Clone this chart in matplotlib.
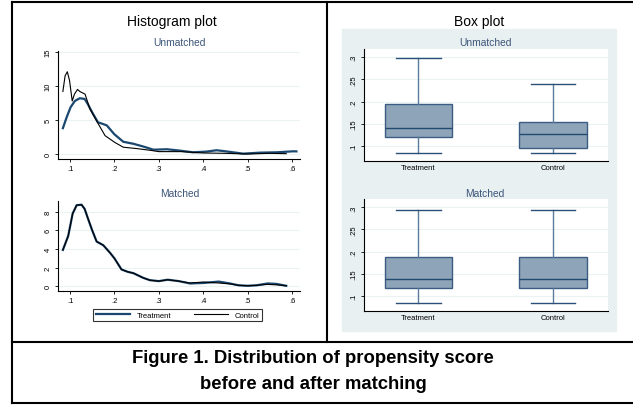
import matplotlib
matplotlib.use("Agg")
import matplotlib.pyplot as plt
from matplotlib.patches import Rectangle
from matplotlib.lines import Line2D

plt.rcParams['font.family'] = ['Liberation Sans', 'DejaVu Sans']

# density curves
unm_t_x = [0.084, 0.0925, 0.1015, 0.111, 0.122, 0.133, 0.14, 0.152, 0.163, 0.175, 0.183,
           0.2, 0.22, 0.243, 0.265, 0.288, 0.318, 0.347, 0.377, 0.407, 0.43, 0.45,
           0.49, 0.528, 0.566, 0.604, 0.61]
unm_t_y = [3.8, 5.4, 6.9, 7.8, 8.2, 8.1, 7.35, 5.9, 4.66, 4.4, 4.2,
           2.9, 1.8, 1.5, 1.1, 0.63, 0.7, 0.5, 0.25, 0.35, 0.55, 0.4,
           0.05, 0.2, 0.25, 0.4, 0.38]

unm_c_x = [0.084, 0.089, 0.094, 0.099, 0.105, 0.11, 0.117, 0.122, 0.128, 0.134, 0.145,
           0.164, 0.179, 0.201, 0.22, 0.25, 0.28, 0.3, 0.35, 0.4, 0.45, 0.5, 0.55, 0.587]
unm_c_y = [9.2, 11.5, 12.1, 10.8, 7.8, 8.8, 9.5, 9.2, 9.0, 8.8, 6.6,
           4.4, 2.7, 1.7, 1.0, 0.8, 0.55, 0.35, 0.35, 0.15, 0.1, 0.0, 0.1, 0.05]

mat_x = [0.084, 0.096, 0.106, 0.115, 0.126, 0.133, 0.141, 0.15, 0.16, 0.175, 0.19,
         0.2, 0.216, 0.23, 0.243, 0.265, 0.28, 0.3, 0.32, 0.345, 0.37, 0.4, 0.435,
         0.46, 0.48, 0.5, 0.52, 0.545, 0.565, 0.587]
mat_t_y = [3.9, 5.4, 7.8, 8.7, 8.75, 8.3, 7.2, 6.0, 4.8, 4.4, 3.6,
           3.0, 1.8, 1.55, 1.4, 0.9, 0.65, 0.55, 0.7, 0.55, 0.3, 0.35, 0.5,
           0.3, 0.1, 0.05, 0.1, 0.3, 0.25, 0.05]
mat_c_y = [3.9, 5.4, 7.8, 8.7, 8.75, 8.3, 7.2, 6.0, 4.8, 4.4, 3.6,
           3.0, 1.8, 1.55, 1.4, 0.9, 0.65, 0.55, 0.7, 0.55, 0.35, 0.45, 0.35,
           0.25, 0.1, 0.05, 0.1, 0.2, 0.15, 0.05]

# box plot summaries: whislo, q1, median, q3, whishi
groups = ["Treatment", "Control"]
unm_box = [[0.084, 0.1195, 0.140, 0.195, 0.297],
           [0.084, 0.096, 0.128, 0.154, 0.240]]
mat_box = [[0.0835, 0.118, 0.138, 0.188, 0.293],
           [0.0835, 0.118, 0.138, 0.188, 0.294]]

W, H = 633, 406
fig = plt.figure(figsize=(W / 100, H / 100), dpi=100)


def px_axes(x0, y0, x1, y1, **kw):
    return fig.add_axes([x0 / W, 1 - y1 / H, (x1 - x0) / W, (y1 - y0) / H], **kw)


def fx(x):
    return x / W


def fy(y):
    return 1 - y / H


navy = '#1a476f'
grid_c = '#eaf2f3'
sub_c = '#3d5578'

# light panel behind the box plots
fig.patches.append(Rectangle((fx(342), fy(332)), fx(616) - fx(342), fy(30) - fy(332),
                             transform=fig.transFigure, color='#e8f0f2', zorder=-5))


def style(ax, yticks, ylabels):
    for s in ['top', 'right']:
        ax.spines[s].set_visible(False)
    for s in ['left', 'bottom']:
        ax.spines[s].set_linewidth(0.8)
        ax.spines[s].set_color('black')
    ax.set_yticks(yticks)
    ax.set_yticklabels(ylabels, rotation=90, va='center', fontsize=5.5)
    ax.tick_params(length=2.5, width=0.6, pad=2, labelsize=5.5)
    ax.grid(axis='y', color=grid_c, linewidth=0.8)
    ax.set_axisbelow(True)


# histogram panel
ax1 = px_axes(58, 52, 300, 160)
ax1.plot(unm_t_x, unm_t_y, color=navy, lw=1.6)
ax1.plot(unm_c_x, unm_c_y, color='black', lw=0.8)
ax1.set_xlim(0.073, 0.618)
ax1.set_ylim(-0.735, 15.15)
ax1.set_xticks([0.1, 0.2, 0.3, 0.4, 0.5, 0.6])
ax1.set_xticklabels(['.1', '.2', '.3', '.4', '.5', '.6'])
style(ax1, [0, 5, 10, 15], ['0', '5', '10', '15'])

ax2 = px_axes(58, 202, 300, 292)
l1, = ax2.plot(mat_x, mat_t_y, color=navy, lw=1.6, label='Treatment')
l2, = ax2.plot(mat_x, mat_c_y, color='black', lw=0.8, label='Control')
ax2.set_xlim(0.073, 0.618)
ax2.set_ylim(-0.51, 9.15)
ax2.set_xticks([0.1, 0.2, 0.3, 0.4, 0.5, 0.6])
ax2.set_xticklabels(['.1', '.2', '.3', '.4', '.5', '.6'])
style(ax2, [0, 2, 4, 6, 8], ['0', '2', '4', '6', '8'])

leg = fig.legend(handles=[l1, l2], labels=['Treatment', 'Control'], ncol=2,
                 loc='center', bbox_to_anchor=(fx(177.5), fy(316)), fontsize=5.5,
                 frameon=True, fancybox=False, handlelength=4.5, columnspacing=3,
                 borderpad=0.35, handletextpad=0.8)
leg.get_frame().set_edgecolor('black')
leg.get_frame().set_linewidth(0.8)

# box plot panel
def draw_box(ax, rows):
    stats = []
    for name, r in zip(groups, rows):
        stats.append(dict(label=name, whislo=r[0], q1=r[1], med=r[2], q3=r[3],
                          whishi=r[4], fliers=[]))
    ax.bxp(stats, positions=[1, 2], widths=0.5, capwidths=0.33, patch_artist=True,
           showfliers=False,
           boxprops=dict(facecolor='#8ea4b9', edgecolor='#3b5d84', linewidth=1.0),
           medianprops=dict(color='#22496f', linewidth=1.0),
           whiskerprops=dict(color='#5b7b9c', linewidth=1.0),
           capprops=dict(color='#2a4f78', linewidth=1.0))
    ax.set_xlim(0.595, 2.409)
    ax.set_facecolor('white')
    style(ax, [0.1, 0.15, 0.2, 0.25, 0.3], ['.1', '.15', '.2', '.25', '.3'])
    ax.tick_params(axis='x', length=0)


ax3 = px_axes(364, 50, 608, 162)
draw_box(ax3, unm_box)
ax3.set_ylim(0.0663, 0.318)

ax4 = px_axes(364, 200, 608, 312)
draw_box(ax4, mat_box)
ax4.set_ylim(0.0654, 0.319)

# titles
fig.text(fx(172), fy(22), 'Histogram plot', ha='center', va='center', fontsize=10)
fig.text(fx(180), fy(43), 'Unmatched', ha='center', va='center', fontsize=7.4, color=sub_c)
fig.text(fx(180), fy(194), 'Matched', ha='center', va='center', fontsize=7.4, color=sub_c)
fig.text(fx(479), fy(22), 'Box plot', ha='center', va='center', fontsize=10)
fig.text(fx(485), fy(43), 'Unmatched', ha='center', va='center', fontsize=7.4, color=sub_c)
fig.text(fx(485), fy(194), 'Matched', ha='center', va='center', fontsize=7.4, color=sub_c)

fig.text(fx(313), fy(359), 'Figure 1. Distribution of propensity score', ha='center',
         va='center', fontsize=13.3, fontweight='bold')
fig.text(fx(313), fy(385), 'before and after matching', ha='center',
         va='center', fontsize=13.3, fontweight='bold')

# table borders
for (xa, ya, xb, yb) in [(12, 3, 640, 3), (12, 3, 12, 404), (12, 404, 640, 404),
                         (12, 342.5, 640, 342.5), (327, 3, 327, 342.5)]:
    fig.lines.append(Line2D([fx(xa), fx(xb)], [fy(ya), fy(yb)], transform=fig.transFigure,
                            color='black', linewidth=1.5))

fig.savefig('out.png', dpi=100)
